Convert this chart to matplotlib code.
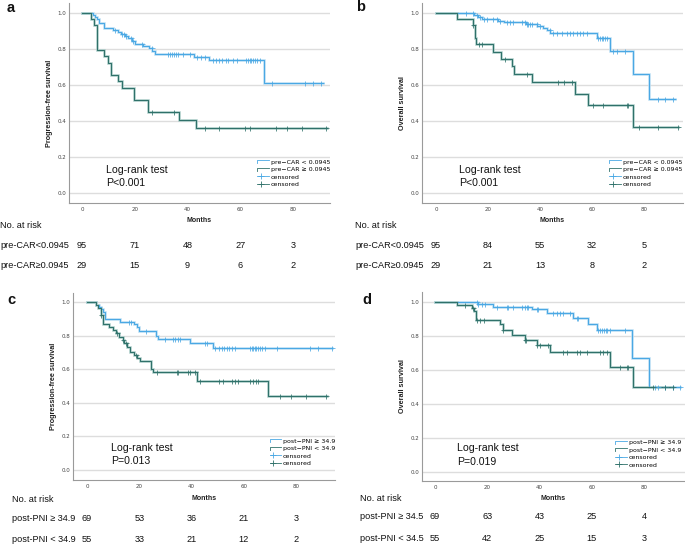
import numpy as np
import matplotlib
matplotlib.use("Agg")
import matplotlib.pyplot as plt
from matplotlib.lines import Line2D
from matplotlib.legend_handler import HandlerBase
from matplotlib.transforms import blended_transform_factory

# ---------------- data ----------------
# Panel a: PFS by pre-CAR
a_low_t = [0, 4.3, 5.0, 5.6, 6.3, 8.4, 11.9, 13.5, 14.8, 16.2, 17.5, 18.8, 20.2, 23.0, 25.5, 26.5, 27.5, 42.5, 48.3, 68.8]
a_low_s = [1.0, 0.989, 0.978, 0.967, 0.945, 0.918, 0.907, 0.896, 0.885, 0.874, 0.860, 0.846, 0.826, 0.815, 0.804, 0.787, 0.770, 0.754, 0.737, 0.613]
a_low_end = 91.2
a_low_cens = [12.5, 15.2, 15.8, 16.6, 18.5, 19.2, 22.6, 26.4, 32.7, 33.5, 34.2, 35.0, 35.6, 36.2, 38.2, 41.0,
              43.5, 45.0, 46.8, 49.5, 50.8, 52.0, 53.2, 54.5, 55.5, 57.2, 58.6, 62.2, 63.0, 63.6, 64.2, 64.8,
              65.5, 66.3, 67.3, 71.9, 84.5, 87.7, 90.6]
a_high_t = [0, 3.4, 4.5, 5.6, 8.5, 9.7, 11.0, 13.8, 15.3, 19.8, 24.9, 36.9, 43.1]
a_high_s = [1.0, 0.966, 0.931, 0.793, 0.759, 0.724, 0.655, 0.621, 0.586, 0.517, 0.448, 0.405, 0.362]
a_high_end = 93.0
a_high_cens = [26.4, 34.9, 46.6, 52.0, 61.8, 63.7, 73.5, 77.6, 83.3, 92.5]

# Panel b: OS by pre-CAR
b_low_t = [0, 14.5, 16.0, 17.5, 24.0, 26.0, 34.5, 39.0, 41.0, 42.5, 44.0, 62.0, 67.0, 75.6, 82.0]
b_low_s = [1.0, 0.989, 0.979, 0.968, 0.958, 0.948, 0.937, 0.926, 0.915, 0.903, 0.891, 0.862, 0.790, 0.659, 0.524]
b_low_end = 92.0
b_low_cens = [11.5, 14.4, 15.6, 16.9, 18.5, 19.5, 22.1, 23.3, 24.6, 27.2, 28.5, 29.7, 32.9, 34.2, 34.9, 35.5,
              36.2, 36.8, 38.7, 40.0, 43.8, 45.1, 46.4, 48.3, 50.3, 51.5, 52.8, 54.1, 55.4, 56.7, 57.9, 62.4,
              63.1, 63.7, 64.4, 65.0, 65.6, 68.2, 69.5, 72.7, 85.5, 88.1, 91.3]
b_high_t = [0, 8.2, 14.1, 15.0, 15.5, 22.0, 24.9, 29.1, 30.1, 36.8, 53.5, 58.6, 75.9]
b_high_s = [1.0, 0.966, 0.931, 0.862, 0.828, 0.786, 0.745, 0.703, 0.662, 0.615, 0.548, 0.487, 0.366]
b_high_end = 93.2
b_high_cens = [14.4, 16.7, 17.5, 26.5, 34.9, 47.0, 49.2, 52.4, 60.5, 64.4, 73.3, 74.0, 78.2, 85.5, 93.2]

# Panel c: PFS by post-PNI
c_hi_t = [0, 3.5, 4.5, 5.5, 6.0, 7.0, 12.6, 18.0, 19.0, 19.8, 26.5, 27.3, 39.4, 48.4]
c_hi_s = [1.0, 0.986, 0.971, 0.957, 0.942, 0.899, 0.885, 0.870, 0.855, 0.826, 0.800, 0.778, 0.755, 0.730]
c_hi_end = 93.7
c_hi_cens = [16.2, 16.7, 22.6, 29.9, 32.8, 33.7, 35.0, 35.6, 45.2, 45.8, 49.0, 50.5, 51.5, 52.5, 53.5, 54.5,
             55.5, 56.6, 62.4, 63.0, 63.6, 64.2, 64.8, 65.5, 66.2, 67.0, 68.0, 72.6, 85.4, 88.5, 93.7]
c_lo_t = [0, 3.4, 4.3, 5.2, 6.0, 8.6, 9.8, 11.0, 12.4, 13.6, 14.2, 15.4, 16.6, 17.9, 19.2, 20.3, 24.4, 25.4, 42.0, 69.4]
c_lo_s = [1.0, 0.982, 0.964, 0.927, 0.873, 0.855, 0.836, 0.815, 0.795, 0.775, 0.755, 0.734, 0.705, 0.685, 0.665,
          0.648, 0.605, 0.585, 0.530, 0.442]
c_lo_end = 91.7
c_lo_cens = [5.4, 11.6, 13.7, 14.9, 18.8, 26.7, 34.3, 35.0, 38.8, 39.4, 41.3, 43.3, 50.5, 52.2, 55.4, 56.6,
             57.9, 62.4, 63.5, 64.6, 65.6, 73.9, 78.1, 83.8, 91.4]

# Panel d: OS by post-PNI
d_hi_t = [0, 16.5, 22.3, 37.0, 43.0, 53.0, 58.7, 61.9, 75.3, 82.0]
d_hi_s = [1.0, 0.985, 0.971, 0.955, 0.935, 0.905, 0.868, 0.833, 0.666, 0.500]
d_hi_end = 93.8
d_hi_cens = [16.0, 16.6, 17.9, 19.1, 23.6, 27.4, 28.1, 30.0, 33.2, 34.4, 35.1, 35.7, 38.9, 39.6, 45.3, 46.6,
             47.8, 49.1, 51.7, 54.2, 54.9, 62.5, 63.2, 63.9, 64.6, 65.3, 66.0, 67.0, 72.7, 84.2, 85.5, 88.0,
             91.2, 93.8]
d_lo_t = [0, 8.5, 14.0, 15.0, 15.8, 25.0, 26.2, 29.3, 34.4, 38.9, 44.0, 67.0, 75.9]
d_lo_s = [1.0, 0.982, 0.964, 0.945, 0.892, 0.870, 0.833, 0.804, 0.775, 0.745, 0.706, 0.618, 0.496]
d_lo_end = 91.2
d_lo_cens = [11.5, 14.7, 16.0, 17.2, 18.8, 26.2, 34.4, 35.0, 38.9, 40.2, 43.4, 49.1, 50.4, 54.2, 55.5, 58.1,
             63.2, 64.4, 65.7, 70.8, 73.4, 74.0, 83.6, 88.0, 91.2]

# Risk tables
risk_months = [0, 20, 40, 60, 80]
a_risk = [[95, 71, 48, 27, 3], [29, 15, 9, 6, 2]]
b_risk = [[95, 84, 55, 32, 5], [29, 21, 13, 8, 2]]
c_risk = [[69, 53, 36, 21, 3], [55, 33, 21, 12, 2]]
d_risk = [[69, 63, 43, 25, 4], [55, 42, 25, 15, 3]]

a_groups = ["pre\u2212CAR < 0.0945", "pre\u2212CAR \u2265 0.0945"]
c_groups = ["post\u2212PNI \u2265 34.9", "post\u2212PNI < 34.9"]
a_rowlab = ["pre-CAR<0.0945", "pre-CAR\u22650.0945"]
c_rowlab = ["post-PNI \u2265 34.9", "post-PNI < 34.9"]
d_rowlab = ["post-PNI \u2265 34.5", "post-PNI < 34.5"]
pvals = ["P<0.001", "P<0.001", "P=0.013", "P=0.019"]
ylabels = ["Progression-free survival", "Overall survival", "Progression-free survival", "Overall survival"]

# ---------------- style ----------------
W, H = 685, 547
BLUE, BLUE_H = "#4aa8e4", "#b8ddf4"
TEAL, TEAL_H = "#2f716a", "#a8cac6"
TXT = "Liberation Sans"

fig = plt.figure(figsize=(W / 100, H / 100), dpi=100)


class StepHandler(HandlerBase):
    def __init__(self, color, censored=False):
        super().__init__()
        self.color = color
        self.censored = censored

    def create_artists(self, legend, orig_handle, xdescent, ydescent, width, height, fontsize, trans):
        x0, y0 = -xdescent, -ydescent
        if self.censored:
            ln = Line2D([x0, x0 + width], [y0 + height * 0.5] * 2, color=self.color, lw=0.6)
            mk = Line2D([x0 + width * 0.3], [y0 + height * 0.5], marker="+", ms=5, mew=0.6,
                        color=self.color, ls="none")
            ln.set_transform(trans)
            mk.set_transform(trans)
            return [ln, mk]
        ln = Line2D([x0, x0, x0 + width], [y0 + height * 0.1, y0 + height * 0.8, y0 + height * 0.8],
                    color=self.color, lw=0.6)
        ln.set_transform(trans)
        return [ln]


def draw_curve(ax, t, s, end, cens, col, halo):
    tt = list(t) + [end]
    ss = list(s) + [s[-1]]
    ax.step(tt, ss, where="post", color=halo, lw=1.8, zorder=3, solid_joinstyle="miter")
    ax.step(tt, ss, where="post", color=col, lw=0.75, zorder=4)
    tarr = np.asarray(t)
    idx = np.searchsorted(tarr, cens, side="right") - 1
    cy = np.asarray(s)[idx]
    ax.plot(cens, cy, ls="none", marker="+", ms=3.6, mew=0.55, color=col, zorder=5)


panels = [
    dict(letter="a", rect=(69, 330, 3, 203), xlim=(-4.93, 94.0), ylim=(-0.0556, 1.0556),
         curves=[(a_low_t, a_low_s, a_low_end, a_low_cens), (a_high_t, a_high_s, a_high_end, a_high_cens)],
         groups=a_groups, risk=a_risk, rowlab=a_rowlab, letter_xy=(11, 8),
         months_y=220.7, nar=(0, 225.7), rows_y=(245.0, 265.7), leg=(0.722, 0.218), lr=(0.142, 0.165, 0.100)),
    dict(letter="b", rect=(422, 683, 3, 203), xlim=(-5.4, 95.0), ylim=(-0.0556, 1.0556),
         curves=[(b_low_t, b_low_s, b_low_end, b_low_cens), (b_high_t, b_high_s, b_high_end, b_high_cens)],
         groups=a_groups, risk=b_risk, rowlab=a_rowlab, letter_xy=(361, 7),
         months_y=220.7, nar=(355, 225.7), rows_y=(245.0, 265.7), leg=(0.718, 0.218), lr=(0.143, 0.165, 0.098)),
    dict(letter="c", rect=(73, 335, 292.7, 480), xlim=(-5.36, 94.9), ylim=(-0.0596, 1.057),
         curves=[(c_hi_t, c_hi_s, c_hi_end, c_hi_cens), (c_lo_t, c_lo_s, c_lo_end, c_lo_cens)],
         groups=c_groups, risk=c_risk, rowlab=c_rowlab, letter_xy=(11, 300),
         months_y=498.3, nar=(12, 500), rows_y=(518.3, 540.0), leg=(0.750, 0.222), lr=(0.144, 0.169, 0.103)),
    dict(letter="d", rect=(421.7, 685, 291.7, 480.7), xlim=(-5.1, 95.7), ylim=(-0.053, 1.059),
         curves=[(d_hi_t, d_hi_s, d_hi_end, d_hi_cens), (d_lo_t, d_lo_s, d_lo_end, d_lo_cens)],
         groups=c_groups, risk=d_risk, rowlab=d_rowlab, letter_xy=(367, 300),
         months_y=498.3, nar=(360, 498.3), rows_y=(516.7, 538.3), leg=(0.736, 0.215), lr=(0.133, 0.171, 0.100)),
]

for i, p in enumerate(panels):
    l, r, t, b = p["rect"]
    ax = fig.add_axes([l / W, 1 - b / H, (r - l) / W, (b - t) / H])
    ax.set_xlim(*p["xlim"])
    ax.set_ylim(*p["ylim"])
    for sp in ("top", "right"):
        ax.spines[sp].set_visible(False)
    for sp in ("left", "bottom"):
        ax.spines[sp].set_color("#9a9a9a")
        ax.spines[sp].set_linewidth(0.8)
    ax.set_yticks([0, 0.2, 0.4, 0.6, 0.8, 1.0])
    ax.set_yticklabels(["0.0", "0.2", "0.4", "0.6", "0.8", "1.0"])
    ax.set_xticks(risk_months)
    ax.tick_params(length=0, labelsize=4, colors="#444444", pad=2)
    ax.tick_params(axis="x", pad=3)
    ax.grid(axis="y", color="#dddddd", lw=1.0)
    ax.set_axisbelow(True)

    cols = [(BLUE, BLUE_H), (TEAL, TEAL_H)]
    for (tt, ss, end, cens), (c, h) in zip(p["curves"], cols):
        draw_curve(ax, tt, ss, end, cens, c, h)

    # legend
    handles = [Line2D([], [], color=BLUE), Line2D([], [], color=TEAL),
               Line2D([], [], color=BLUE, marker="+"), Line2D([], [], color=TEAL, marker="+")]
    labels = [p["groups"][0], p["groups"][1], "censored", "censored"]
    hmap = {handles[0]: StepHandler(BLUE), handles[1]: StepHandler(TEAL),
            handles[2]: StepHandler(BLUE, True), handles[3]: StepHandler(TEAL, True)}
    ax.legend(handles, labels, handler_map=hmap, loc="upper left", bbox_to_anchor=p["leg"],
              frameon=False, fontsize=4.5, handlelength=1.9, handletextpad=0.25, labelspacing=0.32,
              borderpad=0, borderaxespad=0)

    # log-rank text
    ax.text(p["lr"][0], p["lr"][1], "Log-rank test", transform=ax.transAxes, fontsize=7.6,
            family=TXT, va="center", ha="left", color="#111111")
    ax.text(p["lr"][0], p["lr"][2], pvals[i], transform=ax.transAxes, fontsize=7.6,
            family=TXT, va="center", ha="left", color="#111111")

    # axis labels
    fig.text((l + r) / 2 / W, 1 - p["months_y"] / H, "Months", fontsize=5, fontweight="bold",
             family=TXT, ha="center", va="center", color="#222222")
    fig.text((l - 19.5) / W, 1 - (t + b) / 2 / H, ylabels[i], fontsize=5.2, fontweight="bold",
             family=TXT, ha="center", va="center", rotation=90, color="#222222")

    # panel letter
    fig.text(p["letter_xy"][0] / W, 1 - p["letter_xy"][1] / H, p["letter"], fontsize=10.5,
             fontweight="bold", family=TXT, ha="center", va="center", color="#111111")

    # risk table
    fig.text(p["nar"][0] / W, 1 - p["nar"][1] / H, "No. at risk", fontsize=6.6, family=TXT,
             ha="left", va="center", color="#111111")
    trans = blended_transform_factory(ax.transData, fig.transFigure)
    for row, lab, yy in zip(p["risk"], p["rowlab"], p["rows_y"]):
        fig.text(p["nar"][0] / W, 1 - yy / H, lab, fontsize=6.6, family=TXT, ha="left",
                 va="center", color="#111111")
        for m, n in zip(risk_months, row):
            ax.text(m, 1 - yy / H, str(n), transform=trans, fontsize=6.6, family=TXT,
                    ha="center", va="center", color="#111111")

fig.savefig("out.png", dpi=100)
